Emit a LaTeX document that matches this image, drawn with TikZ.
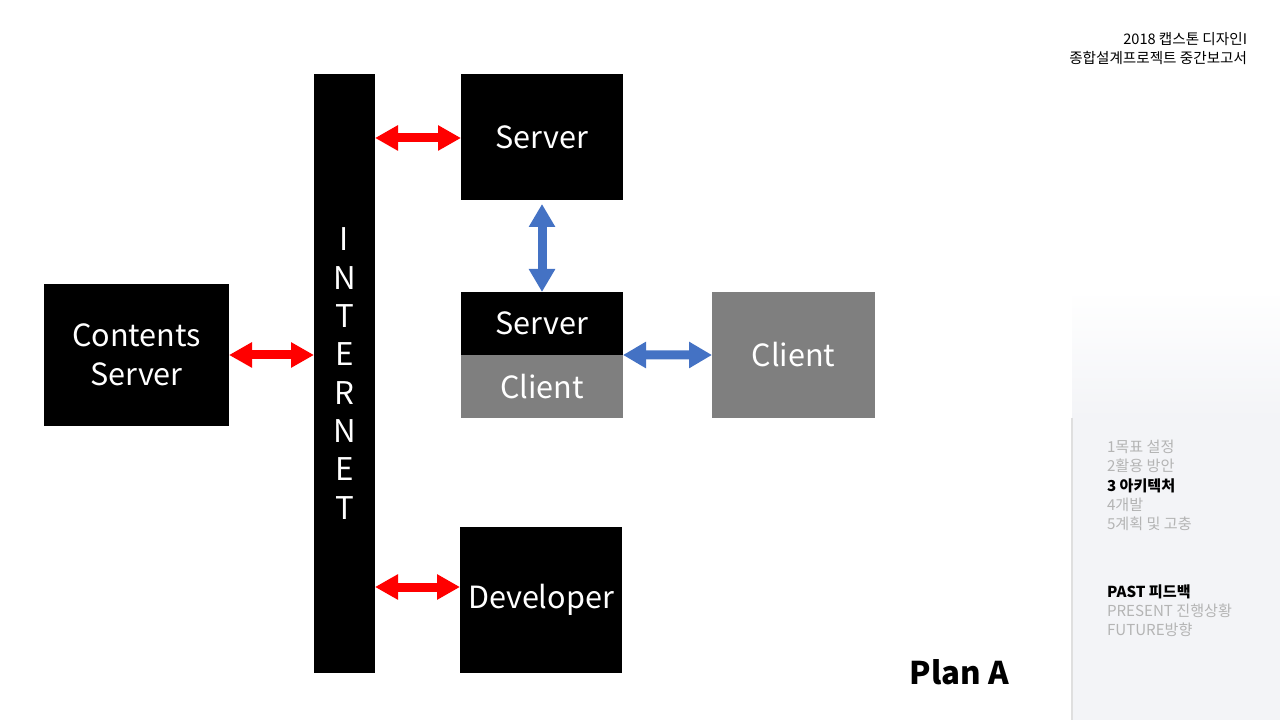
\documentclass[tikz,border=0pt]{standalone}
\usepackage{fontspec}
\setmainfont{Noto Sans CJK KR}
\usetikzlibrary{
    arrows.meta,
    positioning,
    calc
}
\definecolor{linkred}{HTML}{FF0000}
\definecolor{linkblue}{HTML}{4472C4}
\definecolor{boxgray}{HTML}{7F7F7F}
\definecolor{menugray}{HTML}{B4B4B4}
\definecolor{panelgray}{HTML}{F3F4F7}

\begin{document}
\begin{tikzpicture}[
    every node/.style={inner sep=0pt, outer sep=0pt},
    blackbox/.style={
        rectangle,
        fill=black,
        text=white,
        align=center,
        font=\fontsize{8.7}{11.2}\selectfont
    },
    greybox/.style={
        rectangle,
        fill=boxgray,
        text=white,
        align=center,
        font=\fontsize{8.7}{11.2}\selectfont
    },
    redlink/.style={
        {Triangle[length=2.3mm,width=2.4mm]}-{Triangle[length=2.3mm,width=2.4mm]},
        line width=0.9mm,
        draw=linkred
    },
    bluelink/.style={
        {Triangle[length=2.3mm,width=2.5mm]}-{Triangle[length=2.3mm,width=2.5mm]},
        line width=0.9mm,
        draw=linkblue
    },
    menuitem/.style={
        anchor=west,
        font=\fontsize{4.3}{5}\selectfont,
        text=menugray
    },
    menuhere/.style={
        anchor=west,
        font=\fontsize{4.3}{5}\selectfont\bfseries,
        text=black
    }
]

\useasboundingbox (0,0) rectangle (12.8,-7.2);

% =====================================================
% Side panel
% =====================================================

\shade[top color=white, bottom color=panelgray] (10.72,-2.9) rectangle (12.8,-4.18);
\fill[panelgray] (10.72,-4.18) rectangle (12.8,-7.2);
\draw[gray!25, line width=0.2mm] (10.72,-4.18) -- (10.72,-7.2);

% =====================================================
% Boxes
% =====================================================

\node[blackbox, minimum width=1.85cm, minimum height=1.42cm] (contents) at (1.365,-3.55)
{Contents\\Server};

\node[blackbox, minimum width=0.61cm, minimum height=5.99cm,
      font=\fontsize{8.9}{10.9}\selectfont] (internet) at (3.445,-3.735)
{I\\N\\T\\E\\R\\N\\E\\T};

\node[blackbox, minimum width=1.62cm, minimum height=1.26cm] (server) at (5.42,-1.37)
{Server};

\node[blackbox, minimum width=1.62cm, minimum height=0.63cm] (midserver) at (5.42,-3.235)
{Server};

\node[greybox, minimum width=1.62cm, minimum height=0.63cm, below=0cm of midserver] (midclient)
{Client};

\node[greybox, minimum width=1.63cm, minimum height=1.26cm] (client) at (7.935,-3.55)
{Client};

\node[blackbox, minimum width=1.62cm, minimum height=1.46cm] (developer) at (5.41,-6.00)
{Developer};

% =====================================================
% Arrows
% =====================================================

\draw[redlink] (contents.east) -- (contents.east -| internet.west);
\draw[redlink] ($(server.west -| internet.east)+(0,-0.01)$) -- ($(server.west)+(0,-0.01)$);
\draw[redlink] ($(developer.west -| internet.east)+(0,0.13)$) -- ($(developer.west)+(0,0.13)$);

\draw[bluelink, shorten <=0.4mm] (server.south) -- (midserver.north);
\draw[bluelink] (midclient.north east) -- (client.west);

% =====================================================
% Labels
% =====================================================

\node[anchor=east, align=right, font=\fontsize{4.15}{5.4}\selectfont] (title) at (12.47,-0.49)
{2018 캡스톤 디자인I\\종합설계프로젝트 중간보고서};

\node[menuitem] (m1) at (11.07,-4.47) {1목표 설정};
\node[menuitem] (m2) at (11.07,-4.66) {2활용 방안};
\node[menuhere] (m3) at (11.07,-4.855) {3 아키텍처};
\node[menuitem] (m4) at (11.07,-5.05) {4개발};
\node[menuitem] (m5) at (11.07,-5.24) {5계획 및 고충};

\node[menuhere] (past) at (11.07,-5.92) {PAST 피드백};
\node[menuitem] (present) at (11.07,-6.11) {PRESENT 진행상황};
\node[menuitem] (future) at (11.07,-6.30) {FUTURE방향};

\node[font=\fontsize{8.9}{10}\selectfont\bfseries] (plan) at (9.595,-6.72) {Plan A};

\end{tikzpicture}
\end{document}
